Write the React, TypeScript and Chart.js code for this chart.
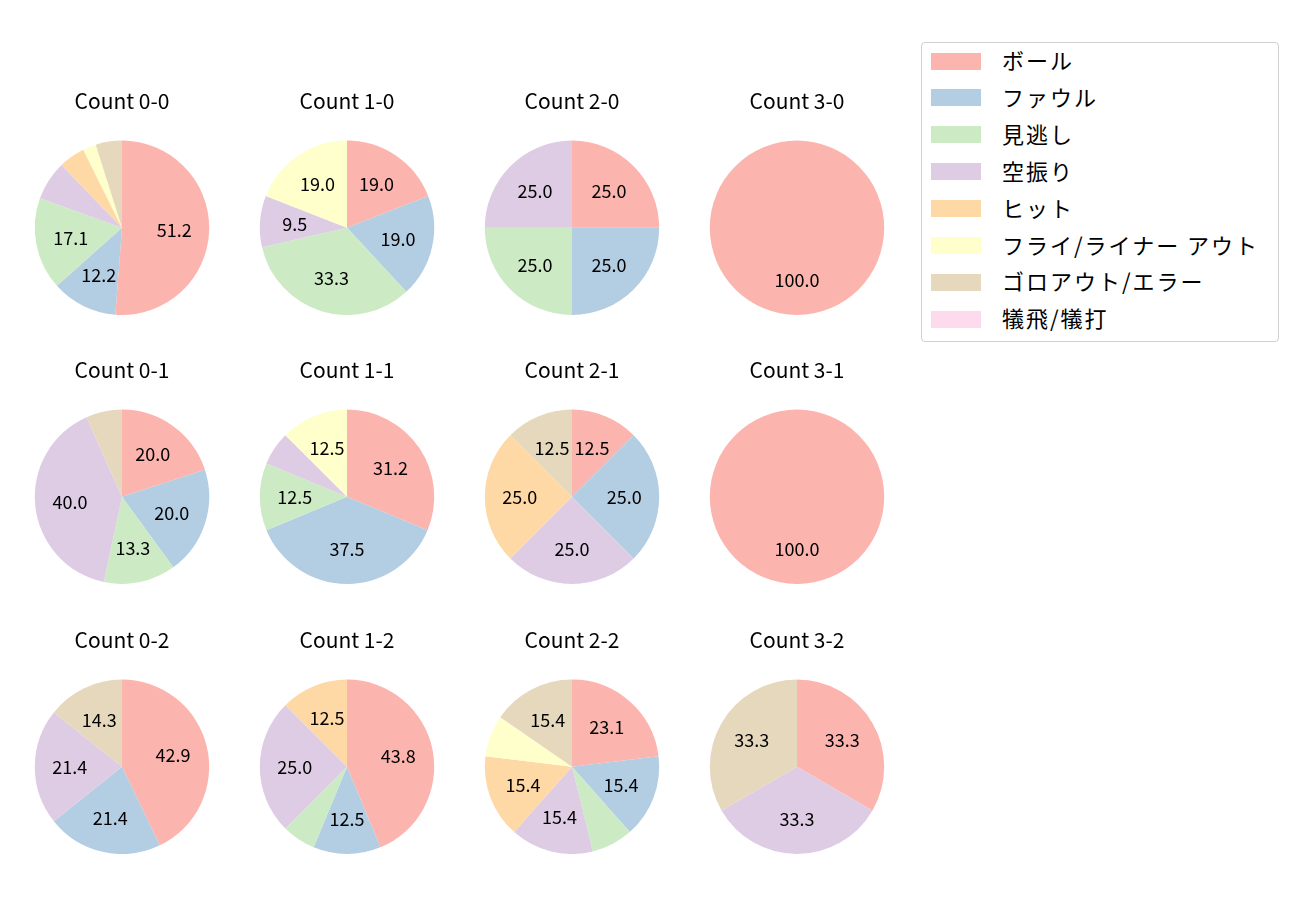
import React, { useEffect, useRef } from "react";
import { Chart, registerables } from "chart.js";

Chart.register(...registerables);

const categories = ["ボール", "ファウル", "見逃し", "空振り", "ヒット", "フライ/ライナー アウト", "ゴロアウト/エラー", "犠飛/犠打"];
const colors = ["#fbb4ae", "#b3cde3", "#ccebc5", "#decbe4", "#fed9a6", "#ffffcc", "#e5d8bd", "#fddaec"];

const titles = [
  "Count 0-0", "Count 1-0", "Count 2-0", "Count 3-0",
  "Count 0-1", "Count 1-1", "Count 2-1", "Count 3-1",
  "Count 0-2", "Count 1-2", "Count 2-2", "Count 3-2",
];

// counts per category (same order as categories)
const count00 = [21, 5, 7, 3, 2, 1, 2, 0];
const count10 = [4, 4, 7, 2, 0, 4, 0, 0];
const count20 = [1, 1, 1, 1, 0, 0, 0, 0];
const count30 = [1, 0, 0, 0, 0, 0, 0, 0];
const count01 = [3, 3, 2, 6, 0, 0, 1, 0];
const count11 = [5, 6, 2, 1, 0, 2, 0, 0];
const count21 = [1, 2, 0, 2, 2, 0, 1, 0];
const count31 = [1, 0, 0, 0, 0, 0, 0, 0];
const count02 = [6, 3, 0, 3, 0, 0, 2, 0];
const count12 = [7, 2, 1, 4, 2, 0, 0, 0];
const count22 = [3, 2, 1, 2, 2, 1, 2, 0];
const count32 = [1, 0, 0, 1, 0, 0, 1, 0];

const allCounts = [
  count00, count10, count20, count30,
  count01, count11, count21, count31,
  count02, count12, count22, count32,
];

const FONT = "'Noto Sans CJK JP', 'Noto Sans', sans-serif";
const LABEL_MIN_PCT = 8;

// one decimal, round half to even (like Python's '%1.1f')
function fmt1(x: number): string {
  const scaled = x * 10;
  const fl = Math.floor(scaled);
  const diff = scaled - fl;
  let r: number;
  if (Math.abs(diff - 0.5) < 1e-9) r = fl % 2 === 0 ? fl : fl + 1;
  else r = Math.round(scaled);
  return (r / 10).toFixed(1);
}

const pctLabelPlugin = {
  id: "pctLabels",
  afterDatasetsDraw(chart: any) {
    const ctx = chart.ctx;
    const meta = chart.getDatasetMeta(0);
    const data = chart.data.datasets[0].data as number[];
    const total = data.reduce((a, b) => a + b, 0);
    ctx.save();
    ctx.fillStyle = "#000";
    ctx.font = `18px ${FONT}`;
    ctx.textAlign = "center";
    ctx.textBaseline = "middle";
    meta.data.forEach((arc: any, i: number) => {
      const v = data[i];
      if (!v) return;
      const pct = (v / total) * 100;
      if (pct < LABEL_MIN_PCT) return;
      const p = arc.getProps(["x", "y", "startAngle", "endAngle", "outerRadius"], true);
      const mid = (p.startAngle + p.endAngle) / 2;
      const r = p.outerRadius * 0.6;
      ctx.fillText(fmt1(pct), p.x + Math.cos(mid) * r, p.y + Math.sin(mid) * r);
    });
    ctx.restore();
  },
};

function PieChart({ title, values }: { title: string; values: number[] }) {
  const ref = useRef<HTMLCanvasElement | null>(null);
  useEffect(() => {
    if (!ref.current) return;
    const chart = new Chart(ref.current, {
      type: "pie",
      data: {
        labels: categories,
        datasets: [
          {
            data: values,
            backgroundColor: colors,
            borderWidth: 0,
          },
        ],
      },
      options: {
        animation: false,
        responsive: false,
        maintainAspectRatio: false,
        layout: { padding: 0 },
        plugins: {
          legend: { display: false },
          tooltip: { enabled: false },
          title: {
            display: true,
            text: title,
            color: "#000",
            font: { family: FONT, size: 21, weight: "normal" as any, lineHeight: 1.2 },
            padding: { top: 0, bottom: 27.4 },
          },
        },
      },
      plugins: [pctLabelPlugin],
    });
    return () => chart.destroy();
  }, [title, values]);
  return <canvas ref={ref} width={220} height={227} style={{ width: 220, height: 227, display: "block" }} />;
}

const colCenters = [122, 347, 572, 797];
const rowTitleCenters = [101, 370, 640];

export default function App() {
  return (
    <div style={{ position: "fixed", left: 0, top: 0, width: 1300, height: 900, background: "#fff", fontFamily: FONT }}>
      {titles.map((t, i) => {
        const col = i % 4;
        const row = Math.floor(i / 4);
        return (
          <div key={t} style={{ position: "absolute", left: colCenters[col] - 110, top: rowTitleCenters[row] - 12.6 }}>
            <PieChart title={t} values={allCounts[i]} />
          </div>
        );
      })}
      <div
        style={{
          position: "absolute",
          left: 921,
          top: 42,
          width: 356,
          height: 298,
          border: "1px solid #d0d0d0",
          borderRadius: 4,
          background: "#fff",
        }}
      >
        {categories.map((c, i) => (
          <div key={c} style={{ position: "absolute", left: 0, top: i * 36.9, height: 36, width: 356 }}>
            <div style={{ position: "absolute", left: 9, top: 9.5, width: 50, height: 17, background: colors[i] }} />
            <div
              style={{
                position: "absolute",
                left: 80,
                top: -2,
                height: 36,
                lineHeight: "36px",
                fontSize: 22,
                letterSpacing: 2,
                color: "#000",
                whiteSpace: "nowrap",
              }}
            >
              {c}
            </div>
          </div>
        ))}
      </div>
    </div>
  );
}
